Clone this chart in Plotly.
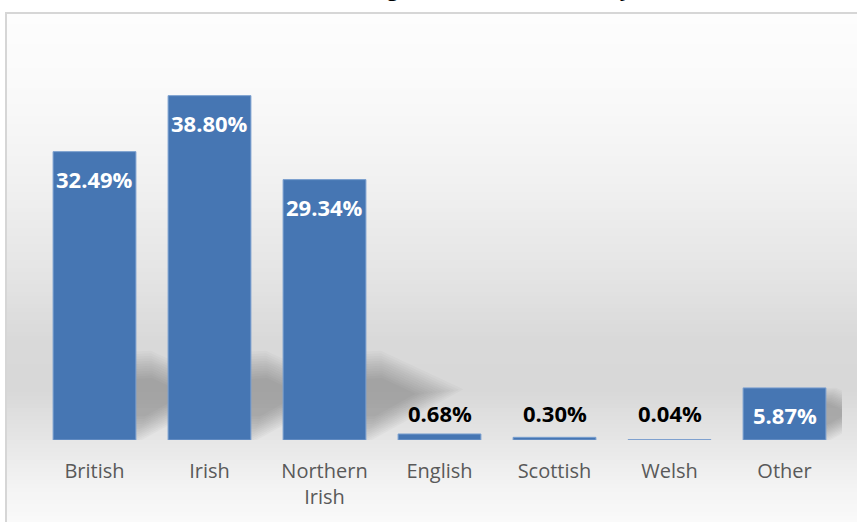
import plotly.graph_objects as go

categories = ["British", "Irish", "Northern<br>Irish", "English", "Scottish", "Welsh", "Other"]
values = [32.49, 38.80, 29.34, 0.68, 0.30, 0.04, 5.87]
labels = ["32.49%", "38.80%", "29.34%", "0.68%", "0.30%", "0.04%", "5.87%"]
title_text = "Figure 1: National Identity, NI"

W, H = 857, 522
L, R, T, B = 37, 15, 85, 82
PW, PH = W - L - R, H - T - B
Y_MAX = 40.0
CAT_PX = PW / len(categories)
UNIT_PX = PH / Y_MAX
LABEL_FLOOR = 0.7


def px_x(p):
    return (p - L) / PW


def px_y(p):
    return (H - B - p) / PH


fig = go.Figure()

fig.add_trace(go.Bar(
    x=list(range(len(categories))), y=values, width=0.72,
    marker=dict(color="#4676b3", line=dict(color="#7a9fcf", width=1)),
    hoverinfo="skip", showlegend=False,
))

shapes = []
# background gradient bands (pixel y, gray level)
stops = [(12, 253), (100, 249), (180, 241), (270, 229), (340, 217), (390, 216), (440, 230), (480, 242), (530, 251)]


def gray_at(y):
    for (y0, g0), (y1, g1) in zip(stops[:-1], stops[1:]):
        if y0 <= y <= y1:
            return g0 + (g1 - g0) * (y - y0) / (y1 - y0)
    return stops[-1][1]


step = 4
y = 12
while y < 530:
    g = int(round(gray_at(y + step / 2)))
    shapes.append(dict(type="rect", xref="paper", yref="paper", layer="below",
                       x0=px_x(5), x1=px_x(870), y0=px_y(y), y1=px_y(y + step + 0.5),
                       fillcolor=f"rgb({g},{g},{g})", line=dict(width=0)))
    y += step
# frame
shapes.append(dict(type="rect", xref="paper", yref="paper", layer="below",
                   x0=px_x(6), x1=px_x(880), y0=px_y(13), y1=px_y(540),
                   fillcolor="rgba(0,0,0,0)", line=dict(color="#d6d6d6", width=2)))

# soft cast shadows behind bars (pixel offsets relative to bar base)
half = 0.36 * CAT_PX
for i, v in enumerate(values):
    s = min(v / 10.0, 1.0)
    if s < 0.2:
        continue
    cx = i * CAT_PX
    pts = [(cx - half + 10, 0), (cx + half, 0), (cx + half + 90 * s, 50 * s),
           (cx + half + 15 * s, 85 * s), (cx - half + 10, 80 * s)]
    mx = sum(p[0] for p in pts) / len(pts) + 25 * s
    my = sum(p[1] for p in pts) / len(pts)
    n = 12
    for j in range(n):
        k = 1.1 - 0.65 * j / (n - 1)
        sp = [(mx + (px - mx) * k, my + (py - my) * k) for px, py in pts]
        path = "M " + " L ".join(f"{px / CAT_PX:.4f},{py / UNIT_PX:.4f}" for px, py in sp) + " Z"
        shapes.append(dict(type="path", xref="x", yref="y", layer="below", path=path,
                           fillcolor="rgba(70,70,70,0.032)", line=dict(width=0)))

annotations = []
for i, (v, lab) in enumerate(zip(values, labels)):
    inside = v > 3
    annotations.append(dict(
        x=i, y=v if inside else max(v, LABEL_FLOOR), xref="x", yref="y",
        text=f"<b>{lab}</b>", showarrow=False,
        yanchor="middle", yshift=-27 if inside else 21,
        font=dict(family="Open Sans", size=22, color="white" if inside else "black"),
    ))

annotations.append(dict(
    x=px_x(517), y=px_y(4), xref="paper", yref="paper", xanchor="center", yanchor="bottom",
    text=f"<b>{title_text}</b>", showarrow=False,
    font=dict(family="Open Sans", size=20, color="black"),
))

fig.update_layout(
    width=W, height=H,
    margin=dict(l=L, r=R, t=T, b=B, autoexpand=False),
    paper_bgcolor="white", plot_bgcolor="rgba(0,0,0,0)",
    shapes=shapes, annotations=annotations,
    xaxis=dict(range=[-0.5, len(categories) - 0.5], tickmode="array",
               tickvals=list(range(len(categories))), ticktext=categories,
               showgrid=False, zeroline=False, showline=False, ticks="",
               ticklabelstandoff=17,
               tickfont=dict(family="Open Sans", size=20, color="#595959")),
    yaxis=dict(range=[0, Y_MAX], visible=False, showgrid=False, zeroline=False),
    bargap=0.28,
)

fig.write_html("out.html", config={"displayModeBar": False},
               post_script="document.body.style.margin='0';document.body.style.overflow='hidden';")
